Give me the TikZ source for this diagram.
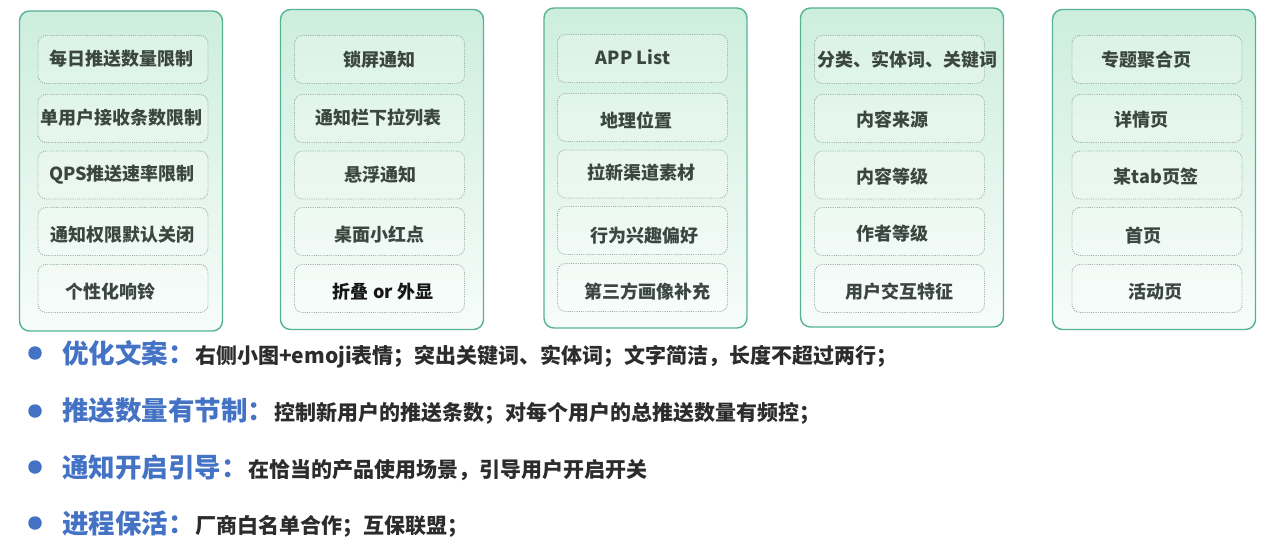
\documentclass[tikz,border=0pt]{standalone}
\usepackage{fontspec}
\setmainfont{Noto Sans CJK SC}
\definecolor{panelB}{HTML}{55B394}
\definecolor{mintT}{HTML}{CDEEDD}
\definecolor{mintB}{HTML}{F7FCFA}
\definecolor{dotG}{HTML}{98ABA2}
\definecolor{txtG}{HTML}{3B4641}
\definecolor{txtK}{HTML}{161616}
\definecolor{headBlue}{HTML}{4472C4}
\definecolor{bodyK}{HTML}{2C2C2C}
\tikzset{
  panel/.style={draw=panelB, line width=1.4pt, rounded corners=10pt, top color=mintT, bottom color=mintB, minimum width=203pt, minimum height=320pt, inner sep=0pt},
  ibox/.style={draw=dotG, line width=0.9pt, dash pattern=on 0.9pt off 1.3pt, rounded corners=8pt, fill=white, fill opacity=0.25, minimum width=170pt, minimum height=48pt, inner sep=0pt},
  itxt/.style={font=\fontsize{18}{20}\selectfont\bfseries, text=txtG, inner sep=0pt},
  bul/.style={circle, fill=headBlue, minimum size=13.5pt, inner sep=0pt},
  head/.style={font=\fontsize{26.5}{30}\selectfont\bfseries, text=headBlue, inner sep=0pt, anchor=west},
  body/.style={font=\fontsize{21}{24}\selectfont\bfseries, text=bodyK, inner sep=0pt, anchor=base west}
}
\begin{document}
\begin{tikzpicture}[x=1pt,y=-1pt]
\useasboundingbox (0,0) rectangle (1280,545);
% panels
\node[panel] (p1) at (121,171) {};
\node[panel] (p2) at (382,169.5) {};
\node[panel, minimum height=320pt] (p3) at (645.5,168) {};
\node[panel, minimum height=319pt] (p4) at (902,167.5) {};
\node[panel] (p5) at (1154,169.5) {};
% inner boxes panel 1
\node[ibox] (a1) at (123,59.5) {};
\node[ibox] (a2) at (123,118.5) {};
\node[ibox] (a3) at (123,175) {};
\node[ibox] (a4) at (123,231.5) {};
\node[ibox] (a5) at (123,288.5) {};
% panel 2
\node[ibox] (b1) at (379.5,59.5) {};
\node[ibox] (b2) at (379.5,118.5) {};
\node[ibox] (b3) at (379.5,175) {};
\node[ibox] (b4) at (379.5,231.5) {};
\node[ibox] (b5) at (379.5,288.5) {};
% panel 3
\node[ibox] (c1) at (642.5,58.5) {};
\node[ibox] (c2) at (642.5,117.5) {};
\node[ibox] (c3) at (642.5,174) {};
\node[ibox] (c4) at (642.5,230.5) {};
\node[ibox] (c5) at (642.5,287.5) {};
% panel 4
\node[ibox] (d1) at (899.5,59.5) {};
\node[ibox] (d2) at (899.5,118.5) {};
\node[ibox] (d3) at (899.5,175) {};
\node[ibox] (d4) at (899.5,231.5) {};
\node[ibox] (d5) at (899.5,288.5) {};
% panel 5
\node[ibox] (e1) at (1157,59.5) {};
\node[ibox] (e2) at (1157,118.5) {};
\node[ibox] (e3) at (1157,175) {};
\node[ibox] (e4) at (1157,231.5) {};
\node[ibox] (e5) at (1157,288.5) {};
% texts panel 1
\node[itxt] (ta1) at (121,59) {每日推送数量限制};
\node[itxt] (ta2) at (121,118) {单用户接收条数限制};
\node[itxt] (ta3) at (122,175) {QPS推送速率限制};
\node[itxt] (ta4) at (122,235) {通知权限默认关闭};
\node[itxt] (ta5) at (110,292) {个性化响铃};
% texts panel 2
\node[itxt] (tb1) at (379,60) {锁屏通知};
\node[itxt] (tb2) at (378,118) {通知栏下拉列表};
\node[itxt] (tb3) at (380,175) {悬浮通知};
\node[itxt] (tb4) at (379,235) {桌面小红点};
\node[itxt, text=txtK] (tb5) at (383,292) {折叠 or 外显};
% texts panel 3
\node[itxt] (tc1) at (633,57) {APP List};
\node[itxt] (tc2) at (636,120) {地理位置};
\node[itxt] (tc3) at (641,173) {拉新渠道素材};
\node[itxt] (tc4) at (644,236) {行为兴趣偏好};
\node[itxt] (tc5) at (647,292) {第三方画像补充};
% texts panel 4
\node[itxt] (td1) at (907,60) {分类、实体词、关键词};
\node[itxt] (td2) at (892,120) {内容来源};
\node[itxt] (td3) at (892,177) {内容等级};
\node[itxt] (td4) at (892,234) {作者等级};
\node[itxt] (td5) at (899,292) {用户交互特征};
% texts panel 5
\node[itxt] (te1) at (1146,60) {专题聚合页};
\node[itxt] (te2) at (1141,120) {详情页};
\node[itxt] (te3) at (1156,177) {某tab页签};
\node[itxt] (te4) at (1143,236) {首页};
\node[itxt] (te5) at (1155,292) {活动页};
% bullet lines
\node[bul] (u1) at (35,353) {};
\node[head] (h1) at (62,353) {优化文案：};
\node[body] (s1) at (h1.base east) {右侧小图+emoji表情；突出关键词、实体词；文字简洁，长度不超过两行；};
\node[bul] (u2) at (35,411) {};
\node[head] (h2) at (62,411) {推送数量有节制：};
\node[body] (s2) at (h2.base east) {控制新用户的推送条数；对每个用户的总推送数量有频控；};
\node[bul] (u3) at (35,467) {};
\node[head] (h3) at (62,467) {通知开启引导：};
\node[body] (s3) at (h3.base east) {在恰当的产品使用场景，引导用户开启开关};
\node[bul] (u4) at (35,523) {};
\node[head] (h4) at (62,523) {进程保活：};
\node[body] (s4) at (h4.base east) {厂商白名单合作；互保联盟；};
\end{tikzpicture}
\end{document}
